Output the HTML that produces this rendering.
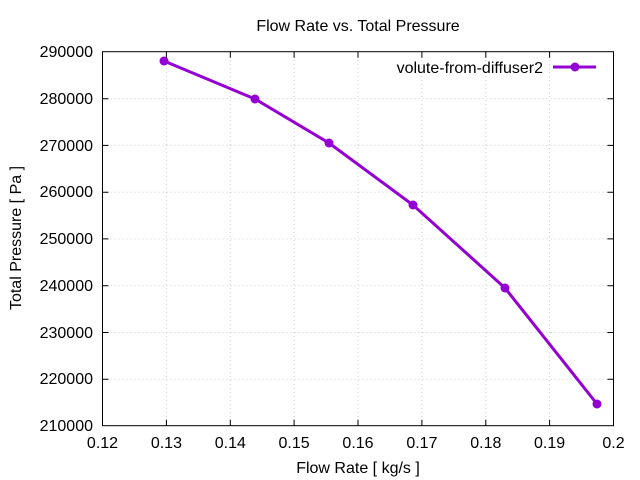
<!DOCTYPE html>
<html><head><style>body{margin:0;background:#fff}svg{display:block}text{font-family:"Liberation Sans",sans-serif;font-size:16px;fill:#000}</style></head>
<body>
<svg width="640" height="480" xmlns="http://www.w3.org/2000/svg">
<rect width="640" height="480" fill="#fff"/>
<g stroke="#ccc" stroke-width="1" stroke-dasharray="1,3">
<line x1="166.4" y1="52" x2="166.4" y2="425.5"/><line x1="230.3" y1="52" x2="230.3" y2="425.5"/><line x1="294.1" y1="52" x2="294.1" y2="425.5"/><line x1="358" y1="52" x2="358" y2="425.5"/><line x1="421.9" y1="52" x2="421.9" y2="425.5"/><line x1="485.8" y1="52" x2="485.8" y2="425.5"/><line x1="549.6" y1="52" x2="549.6" y2="425.5"/>
<line x1="102.5" y1="98.7" x2="613.5" y2="98.7"/><line x1="102.5" y1="145.4" x2="613.5" y2="145.4"/><line x1="102.5" y1="192.2" x2="613.5" y2="192.2"/><line x1="102.5" y1="238.9" x2="613.5" y2="238.9"/><line x1="102.5" y1="285.7" x2="613.5" y2="285.7"/><line x1="102.5" y1="332.5" x2="613.5" y2="332.5"/><line x1="102.5" y1="379.2" x2="613.5" y2="379.2"/>
</g>
<rect x="102.5" y="51.7" width="511" height="374" fill="none" stroke="#000" stroke-width="1"/>
<g stroke="#000">
<path d="M166.4 425.7v-6M230.3 425.7v-6M294.1 425.7v-6M358 425.7v-6M421.9 425.7v-6M485.8 425.7v-6M549.6 425.7v-6M166.4 51.7v6M230.3 51.7v6M294.1 51.7v6M358 51.7v6M421.9 51.7v6M485.8 51.7v6M549.6 51.7v6"/>
<path d="M102.5 98.7h6M102.5 145.4h6M102.5 192.2h6M102.5 238.9h6M102.5 285.7h6M102.5 332.5h6M102.5 379.2h6M613.5 98.7h-6M613.5 145.4h-6M613.5 192.2h-6M613.5 238.9h-6M613.5 285.7h-6M613.5 332.5h-6M613.5 379.2h-6"/>
</g>
<g text-anchor="end">
<text x="93" y="57">290000</text><text x="93" y="104">280000</text><text x="93" y="151">270000</text><text x="93" y="197">260000</text><text x="93" y="244">250000</text><text x="93" y="291">240000</text><text x="93" y="338">230000</text><text x="93" y="384">220000</text><text x="93" y="431">210000</text>
</g>
<g text-anchor="middle">
<text x="102.5" y="448">0.12</text><text x="166.4" y="448">0.13</text><text x="230.3" y="448">0.14</text><text x="294.1" y="448">0.15</text><text x="358" y="448">0.16</text><text x="421.9" y="448">0.17</text><text x="485.8" y="448">0.18</text><text x="549.6" y="448">0.19</text><text x="613.5" y="448">0.2</text>
<text x="358" y="31" font-size="15">Flow Rate vs. Total Pressure</text>
<text x="358" y="473">Flow Rate [ kg/s ]</text>
<text transform="translate(21,238) rotate(-90)">Total Pressure [ Pa ]</text>
</g>
<text x="543" y="73" text-anchor="end">volute-from-diffuser2</text>
<g stroke="#9400d3" stroke-width="3" fill="#9400d3">
<line x1="553" y1="67" x2="596" y2="67"/>
<polyline fill="none" points="164,61 255,99 329,143 413,205 505,288 597,404"/>
</g>
<g fill="#9400d3">
<circle cx="575" cy="67" r="4.5"/><circle cx="164" cy="61" r="4.5"/><circle cx="255" cy="99" r="4.5"/><circle cx="329" cy="143" r="4.5"/><circle cx="413" cy="205" r="4.5"/><circle cx="505" cy="288" r="4.5"/><circle cx="597" cy="404" r="4.5"/>
</g>
</svg>
</body></html>
